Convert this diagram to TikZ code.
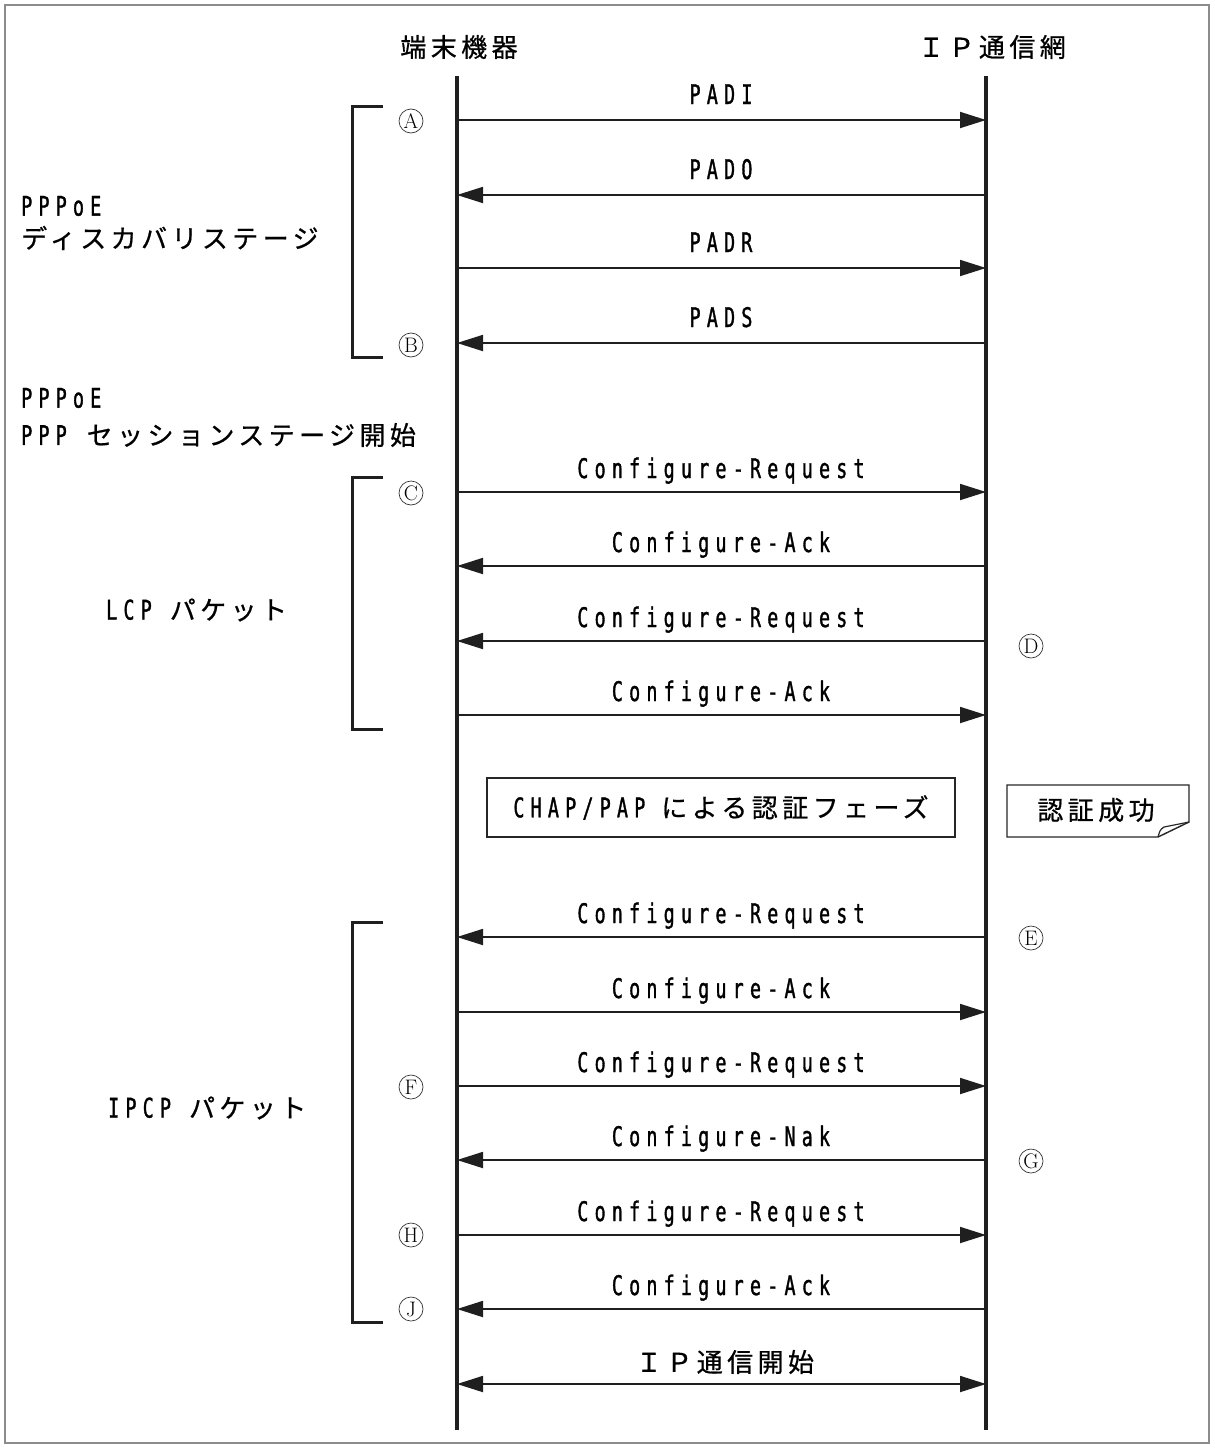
\documentclass[tikz,border=0pt]{standalone}
\usepackage{fontspec}
\usetikzlibrary{arrows.meta}
\newfontfamily\jpfam[LetterSpace=17,FakeBold=0.7]{Noto Sans CJK JP}
\newfontfamily\latfam[FakeStretch=0.68,LetterSpace=23,FakeBold=1.2]{DejaVu Sans Mono}
\newcommand\jptxt[1]{{\jpfam\fontsize{26}{30}\selectfont #1}}
\newcommand\latxt[1]{{\latfam\fontsize{27}{30}\selectfont #1}}
\tikzset{
  lifeline/.style={line width=3.5pt,draw=black!88},
  msgr/.style={line width=1.8pt,draw=black!88,-{Triangle[length=26pt,width=16pt]}},
  msgl/.style={line width=1.8pt,draw=black!88,{Triangle[length=26pt,width=16pt]}-},
  msgb/.style={line width=1.8pt,draw=black!88,{Triangle[length=26pt,width=16pt]}-{Triangle[length=26pt,width=16pt]}},
  brkt/.style={line width=3pt,draw=black!88},
  circ/.style={circle,draw=black!80,line width=0.7pt,inner sep=0pt,minimum size=24pt,font=\fontsize{21}{21}\selectfont},
  lbl/.style={anchor=base,inner sep=0pt},
  txt/.style={inner sep=0pt},
}
\begin{document}
\begin{tikzpicture}[x=1pt,y=-1pt]
\useasboundingbox (0,0) rectangle (1215,1448);
% frame
\draw[line width=1.5pt,draw=black!45] (5,5) rectangle (1209,1443);
% headers
\node[txt] (hl) at (459,47) {\jptxt{端末機器}};
\node[txt] (hr) at (992,47) {\jptxt{ＩＰ通信網}};
% lifelines
\coordinate (lt) at (457,76);
\coordinate (lb) at (457,1430);
\coordinate (rt) at (986,76);
\coordinate (rb) at (986,1430);
\draw[lifeline] (lt) -- (lb);
\draw[lifeline] (rt) -- (rb);
% rows
\foreach \n/\y in {1/120,2/195,3/268,4/343,5/492,6/566,7/641,8/715,9/937,10/1012,11/1086,12/1160,13/1235,14/1309,15/1384}{
  \coordinate (L\n) at (457,\y);
  \coordinate (R\n) at (986,\y);
}
% discovery
\draw[msgr] (L1) -- (R1);
\node[lbl] (m1) at (721,104) {\latxt{PADI}};
\draw[msgl] (L2) -- (R2);
\node[lbl] (m2) at (721,179) {\latxt{PADO}};
\draw[msgr] (L3) -- (R3);
\node[lbl] (m3) at (721,252) {\latxt{PADR}};
\draw[msgl] (L4) -- (R4);
\node[lbl] (m4) at (721,327) {\latxt{PADS}};
% LCP
\draw[msgr] (L5) -- (R5);
\node[lbl] (m5) at (721,478) {\latxt{Configure-Request}};
\draw[msgl] (L6) -- (R6);
\node[lbl] (m6) at (721,552) {\latxt{Configure-Ack}};
\draw[msgl] (L7) -- (R7);
\node[lbl] (m7) at (721,627) {\latxt{Configure-Request}};
\draw[msgr] (L8) -- (R8);
\node[lbl] (m8) at (721,701) {\latxt{Configure-Ack}};
% auth
\node[draw=black!85,line width=1.6pt,minimum width=468pt,minimum height=59pt,inner sep=0pt] (auth) at (721,807.5)
  {\latxt{CHAP/PAP}\hspace{16pt}\jptxt{による認証フェーズ}};
\draw[line width=1.4pt,draw=black!85] (1007,785) -- (1189,785) -- (1189,822) -- (1158,837) -- (1007,837) -- cycle;
\draw[line width=1.2pt,draw=black!85] (1158,837) .. controls (1160,830) .. (1164,827) -- (1189,822);
\node[txt] (ok) at (1096,810) {\jptxt{認証成功}};
% IPCP
\draw[msgl] (L9) -- (R9);
\node[lbl] (m9) at (721,923) {\latxt{Configure-Request}};
\draw[msgr] (L10) -- (R10);
\node[lbl] (m10) at (721,998) {\latxt{Configure-Ack}};
\draw[msgr] (L11) -- (R11);
\node[lbl] (m11) at (721,1072) {\latxt{Configure-Request}};
\draw[msgl] (L12) -- (R12);
\node[lbl] (m12) at (721,1146) {\latxt{Configure-Nak}};
\draw[msgr] (L13) -- (R13);
\node[lbl] (m13) at (721,1221) {\latxt{Configure-Request}};
\draw[msgl] (L14) -- (R14);
\node[lbl] (m14) at (721,1295) {\latxt{Configure-Ack}};
\draw[msgb] (L15) -- (R15);
\node[txt] (m15) at (725,1362) {\jptxt{ＩＰ通信開始}};
% brackets
\draw[brkt] (383,106) -- (352,106) -- (352,357) -- (383,357);
\draw[brkt] (383,477) -- (352,477) -- (352,729) -- (383,729);
\draw[brkt] (383,922) -- (352,922) -- (352,1322) -- (383,1322);
% circled marks
\node[circ] (cA) at (411,121) {A};
\node[circ] (cB) at (411,345) {B};
\node[circ] (cC) at (411,493) {C};
\node[circ] (cD) at (1031,646) {D};
\node[circ] (cE) at (1031,938) {E};
\node[circ] (cF) at (411,1087) {F};
\node[circ] (cG) at (1031,1161) {G};
\node[circ] (cH) at (411,1235) {H};
\node[circ] (cJ) at (411,1309) {J};
% left labels
\node[txt,anchor=west] (d1) at (21,206) {\latxt{PPPoE}};
\node[txt,anchor=west] (d2) at (21,238) {\jptxt{ディスカバリステージ}};
\node[txt,anchor=west] (s1) at (21,398) {\latxt{PPPoE}};
\node[txt,anchor=west] (s2) at (21,435) {\latxt{PPP}\hspace{20pt}\jptxt{セッションステージ開始}};
\node[txt,anchor=west] (lcp) at (106,610) {\latxt{LCP}\hspace{18pt}\jptxt{パケット}};
\node[txt,anchor=west] (ipcp) at (108,1108) {\latxt{IPCP}\hspace{18pt}\jptxt{パケット}};
\end{tikzpicture}
\end{document}
